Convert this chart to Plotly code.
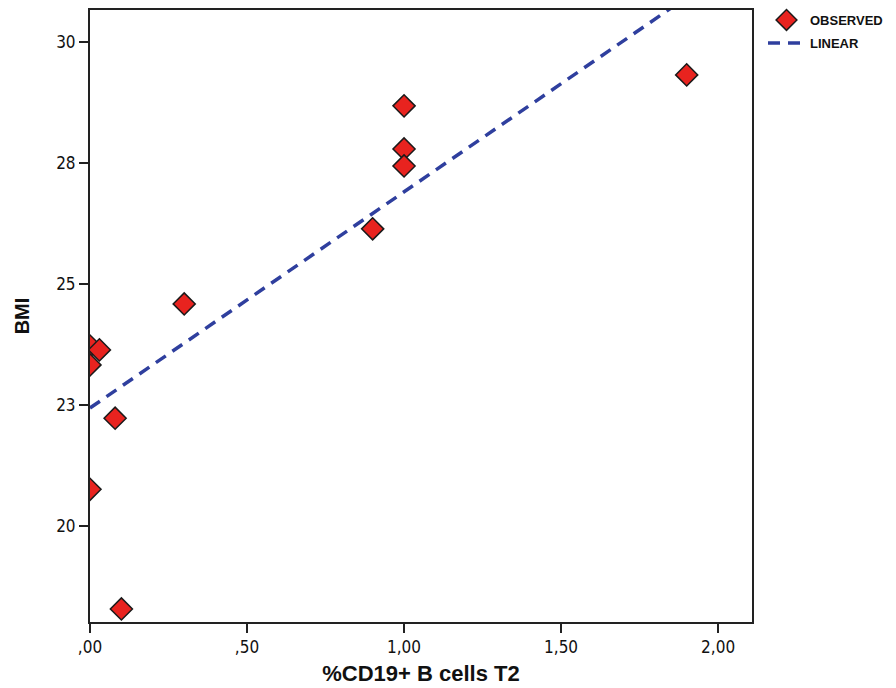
import plotly.graph_objects as go

cd19_t2 = [0.0, 0.0, 0.03, 0.08, 0.0, 0.10, 0.30, 0.90, 1.00, 1.00, 1.00, 1.90]
bmi = [23.72, 23.33, 23.64, 22.23, 20.76, 18.29, 24.59, 26.14, 28.68, 27.79, 27.44, 29.32]

# Linear fit line
fit_x = [0.0, 2.11]
fit_y = [22.44, 31.86]

x_tickvals = [0, 0.5, 1.0, 1.5, 2.0]
x_ticktext = [",00", ",50", "1,00", "1,50", "2,00"]
y_tickvals = [20, 22.5, 25, 27.5, 30]
y_ticktext = ["20", "23", "25", "28", "30"]

FONT = "Liberation Sans, Arial, sans-serif"
NARROW = "Liberation Sans Narrow, Arial Narrow, DejaVu Sans Condensed, sans-serif"

fig = go.Figure()
fig.add_trace(go.Scatter(
    x=cd19_t2, y=bmi, mode="markers", name="OBSERVED",
    marker=dict(symbol="diamond", size=17, color="#e8231f",
                line=dict(color="#1a1a1a", width=1.5)),
    legend="legend",
))
fig.add_trace(go.Scatter(
    x=fit_x, y=fit_y, mode="lines", name="LINEAR",
    line=dict(color="#2f3f9e", width=3.5, dash="12px,8px"),
    legend="legend2",
))

axis_font = dict(family=NARROW, size=17, color="#111")
leg_common = dict(xanchor="left", yanchor="middle",
                  font=dict(size=13, family=FONT, weight="bold", color="#111"),
                  bgcolor="rgba(0,0,0,0)", itemwidth=37)
# page has an 8px body margin; margins below compensate so the plot area
# sits at x 90-752, y 10-622 in the screenshot
fig.update_layout(
    width=896, height=688,
    margin=dict(l=82, r=152, t=2, b=74, autoexpand=False),
    paper_bgcolor="white", plot_bgcolor="white",
    font=dict(family=FONT, color="#111"),
    showlegend=True,
    legend=dict(x=1 + 11 / 662, y=(622 - 20) / 612, **leg_common),
    legend2=dict(x=1 + 11 / 662, y=(622 - 43) / 612, **leg_common),
    xaxis=dict(range=[0, 2.108], tickvals=x_tickvals, ticktext=x_ticktext,
               showgrid=False, zeroline=False, showline=True, linecolor="#222",
               linewidth=2, mirror=True, ticks="outside", ticklen=9, tickwidth=2,
               tickcolor="#222", tickfont=axis_font, automargin=False,
               title=dict(text="<b>%CD19+ B cells T2</b>",
                          font=dict(size=22, family=FONT),
                          standoff=9)),
    yaxis=dict(range=[18.02, 30.66], tickvals=y_tickvals, ticktext=y_ticktext,
               showgrid=False, zeroline=False, showline=True, linecolor="#222",
               linewidth=2, mirror=True, ticks="outside", ticklen=9, tickwidth=2,
               tickcolor="#222", tickfont=axis_font, automargin=False,
               title=dict(text="<b>BMI</b>",
                          font=dict(size=20, family=FONT),
                          standoff=21)),
)

fig.write_html("out.html")
